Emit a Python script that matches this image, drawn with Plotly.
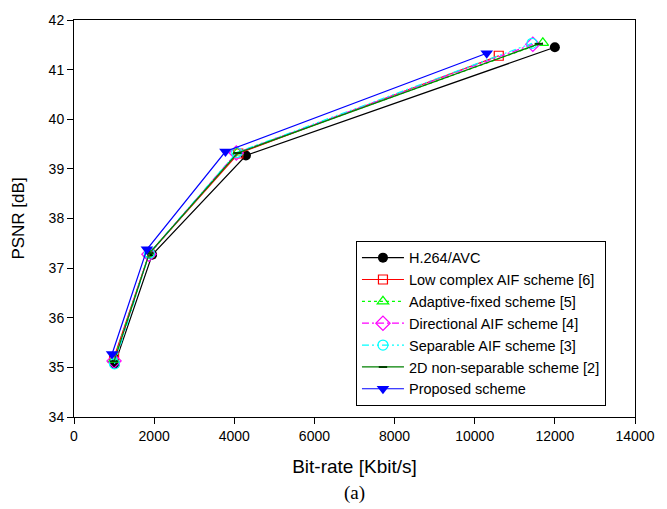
import plotly.graph_objects as go

# ---- data ----
series_names = [
    "H.264/AVC",
    "Low complex AIF scheme [6]",
    "Adaptive-fixed scheme [5]",
    "Directional AIF scheme [4]",
    "Separable AIF scheme [3]",
    "2D non-separable scheme [2]",
    "Proposed scheme",
]
h264_rate = [1020, 1950, 4290, 12000]
h264_psnr = [35.07, 37.27, 39.27, 41.45]
lowc_rate = [1000, 1880, 4100, 10600]
lowc_psnr = [35.20, 37.30, 39.31, 41.28]
adfx_rate = [990, 1870, 4080, 11700]
adfx_psnr = [35.15, 37.28, 39.33, 41.54]
dira_rate = [1000, 1870, 4050, 11450]
dira_psnr = [35.13, 37.28, 39.32, 41.51]
sepa_rate = [1010, 1880, 4060, 11430]
sepa_psnr = [35.07, 37.30, 39.33, 41.53]
nsep_rate = [1000, 1880, 4080, 11600]
nsep_psnr = [35.12, 37.30, 39.32, 41.52]
prop_rate = [950, 1820, 3780, 10300]
prop_psnr = [35.27, 37.38, 39.35, 41.33]

x_ticks = [0, 2000, 4000, 6000, 8000, 10000, 12000, 14000]
y_ticks = [34, 35, 36, 37, 38, 39, 40, 41, 42]

rates = [h264_rate, lowc_rate, adfx_rate, dira_rate, sepa_rate, nsep_rate, prop_rate]
psnrs = [h264_psnr, lowc_psnr, adfx_psnr, dira_psnr, sepa_psnr, nsep_psnr, prop_psnr]

styles = [
    dict(color="black", dash="solid", symbol="circle", size=10, fill="black"),
    dict(color="#ff0000", dash="solid", symbol="square-open", size=9, fill=None),
    dict(color="#00ff00", dash="dot", symbol="triangle-up-open", size=10, fill=None),
    dict(color="#ff00ff", dash="7px,3px,2px,3px", symbol="diamond-open", size=11, fill=None),
    dict(color="#00ffff", dash="7px,3px,2px,3px,2px,3px", symbol="circle-open", size=10, fill=None),
    dict(color="#008000", dash="solid", symbol="line-ew", size=6, fill=None),
    dict(color="#0000ff", dash="solid", symbol="triangle-down", size=11, fill="#0000ff"),
]

FONT = "Arial, Liberation Sans, sans-serif"

fig = go.Figure()
for name, xr, yp, st in zip(series_names, rates, psnrs, styles):
    if st["fill"]:
        marker = dict(symbol=st["symbol"], size=st["size"], color=st["fill"])
    elif st["symbol"] == "line-ew":
        marker = dict(symbol=st["symbol"], size=st["size"],
                      line=dict(color="#004000", width=2))
    else:
        marker = dict(symbol=st["symbol"], size=st["size"], color=st["color"],
                      line=dict(color=st["color"], width=1.2))
    fig.add_trace(go.Scatter(
        x=xr, y=yp, name=name, mode="lines+markers",
        line=dict(color=st["color"], width=1.2, dash=st["dash"]),
        marker=marker,
    ))

axis_font = dict(family=FONT, size=14, color="black")
fig.update_layout(
    width=667, height=509,
    margin=dict(l=73.5, r=25, t=16, b=92),
    paper_bgcolor="white", plot_bgcolor="white",
    font=dict(family=FONT, color="black"),
    legend=dict(
        x=0.5026, y=0.444, xanchor="left", yanchor="top",
        bgcolor="white", bordercolor="black", borderwidth=1,
        font=dict(family=FONT, size=14.5, color="black"),
        tracegroupgap=0, itemwidth=42,
    ),
    annotations=[dict(
        text="(a)", xref="paper", yref="paper", x=0.5, y=-0.192,
        xanchor="center", yanchor="middle", showarrow=False,
        font=dict(family="Times New Roman, Liberation Serif, serif", size=19, color="black"),
    )],
)
fig.update_xaxes(
    range=[0, 14000], tickvals=x_ticks, ticktext=[str(v) for v in x_ticks],
    ticks="outside", ticklen=6, tickcolor="black", tickfont=axis_font,
    showline=True, linecolor="black", linewidth=1, mirror=True,
    showgrid=False, zeroline=False, ticklabeloverflow="allow",
    title=dict(text="Bit-rate [Kbit/s]", font=dict(family=FONT, size=19, color="black"), standoff=16),
)
fig.update_yaxes(
    range=[34, 42], tickvals=y_ticks, ticktext=[str(v) for v in y_ticks],
    ticks="outside", ticklen=6, tickcolor="black", tickfont=axis_font,
    showline=True, linecolor="black", linewidth=1, mirror=True,
    showgrid=False, zeroline=False, ticklabeloverflow="allow",
    title=dict(text="PSNR [dB]", font=dict(family=FONT, size=17, color="black"), standoff=19),
)

fig.write_html("out.html", config={"displayModeBar": False},
               post_script="document.body.style.margin='0';")
